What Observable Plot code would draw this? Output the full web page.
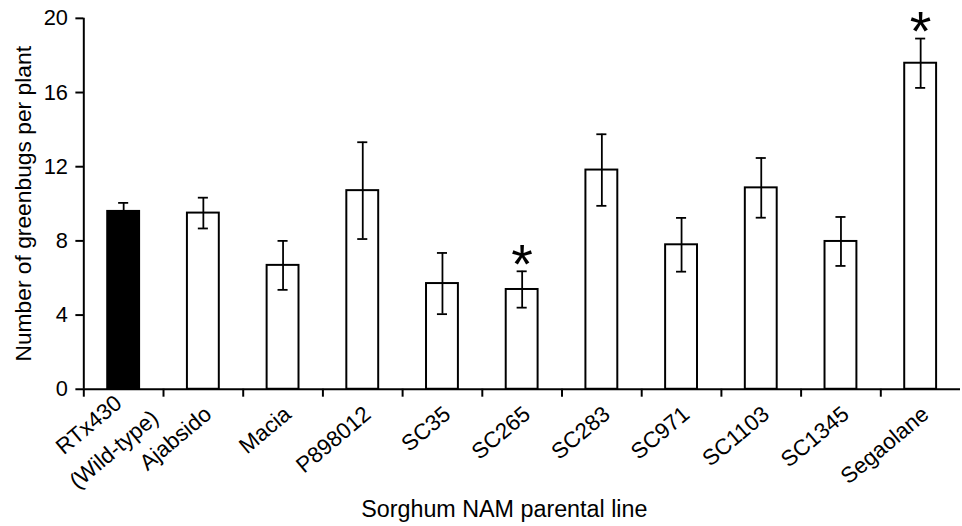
<!DOCTYPE html>
<html>
<head>
<meta charset="utf-8">
<script src="https://cdn.jsdelivr.net/npm/d3@7"></script>
<script src="https://cdn.jsdelivr.net/npm/@observablehq/plot@0.6"></script>
<style>
  html, body { margin: 0; padding: 0; background: #fff; overflow: hidden; }
  svg { display: block; }
</style>
</head>
<body>
<div id="chart"></div>
<script>
// ---- data ----
const lines = ["RTx430", "Ajabsido", "Macia", "P898012", "SC35", "SC265", "SC283", "SC971", "SC1103", "SC1345", "Segaolane"];
const tickLabels = ["RTx430\n(Wild-type)", "Ajabsido", "Macia", "P898012", "SC35", "SC265", "SC283", "SC971", "SC1103", "SC1345", "Segaolane"];
const means = [9.59, 9.50, 6.68, 10.71, 5.70, 5.38, 11.82, 7.79, 10.86, 7.97, 17.58];
const errors = [0.46, 0.83, 1.32, 2.61, 1.65, 0.98, 1.93, 1.45, 1.61, 1.32, 1.33];
const significant = [false, false, false, false, false, true, false, false, false, false, true];
const wildType = [true, false, false, false, false, false, false, false, false, false, false];
const yTicks = [0, 4, 8, 12, 16, 20];
const yTitle = "Number of greenbugs per plant";
const xTitle = "Sorghum NAM parental line";

const data = lines.map((l, i) => ({
  line: l, label: tickLabels[i], mean: means[i],
  lo: means[i] - errors[i], hi: means[i] + errors[i],
  sig: significant[i], wt: wildType[i]
}));
const singleLabels = data.filter(d => !d.label.includes("\n"));
const multiLabels = data.filter(d => d.label.includes("\n"));

const W = 970, H = 526, ML = 84, MR = 2, MT = 18, MB = 134;
const step = (W - ML - MR) / lines.length;
const font = "'Liberation Sans', Arial, Helvetica, sans-serif";
const labelStyle = {frameAnchor: "bottom", rotate: -40, textAnchor: "end", lineAnchor: "middle", fontSize: 22.5, fill: "black"};

const chart = Plot.plot({
  width: W, height: H,
  marginLeft: ML, marginRight: MR, marginTop: MT, marginBottom: MB,
  style: {fontFamily: font, background: "white", color: "black", overflow: "visible"},
  x: {domain: lines, paddingInner: 0.6, paddingOuter: 0.3, round: false},
  y: {domain: [0, 20]},
  marks: [
    Plot.rectY(data, {x: "line", y: "mean", fill: d => d.wt ? "black" : "white", stroke: "black", strokeWidth: 2}),
    Plot.ruleX(data, {x: "line", y1: "lo", y2: "hi", stroke: "black", strokeWidth: 1.8}),
    Plot.tickY(data, {x: "line", y: "hi", stroke: "black", strokeWidth: 1.8, insetLeft: 11, insetRight: 11}),
    Plot.tickY(data, {x: "line", y: "lo", stroke: "black", strokeWidth: 1.8, insetLeft: 11, insetRight: 11}),
    Plot.text(data.filter(d => d.sig), {x: "line", y: "hi", text: () => "*", fontSize: 56, dy: 12, lineAnchor: "bottom", fill: "black"}),
    Plot.ruleY([0], {stroke: "black", strokeWidth: 2}),
    Plot.ruleX([lines[0]], {y1: 0, y2: 20, dx: -step / 2, stroke: "black", strokeWidth: 2}),
    Plot.axisY({ticks: yTicks, tickSize: 8, tickPadding: 8, fontSize: 22, strokeWidth: 2, label: null}),
    Plot.axisX({tickSize: 8, tickFormat: () => "", dx: -step / 2, strokeWidth: 2, label: null}),
    Plot.text(singleLabels, {x: "line", text: "label", ...labelStyle, dx: 5, dy: 22}),
    Plot.text(multiLabels, {x: "line", text: d => d.label.split("\n")[0], ...labelStyle, dx: -5, dy: 11}),
    Plot.text(multiLabels, {x: "line", text: d => d.label.split("\n")[1], ...labelStyle, dx: 32, dy: 26}),
    Plot.text([yTitle], {frameAnchor: "left", text: d => d, rotate: -90, textAnchor: "middle", lineAnchor: "middle", dx: -61, fontSize: 23, fill: "black"}),
    Plot.text([xTitle], {frameAnchor: "bottom", text: d => d, textAnchor: "middle", lineAnchor: "middle", dx: -18, dy: 121, fontSize: 23.5, fill: "black"})
  ]
});
document.getElementById("chart").appendChild(chart);
</script>
</body>
</html>
